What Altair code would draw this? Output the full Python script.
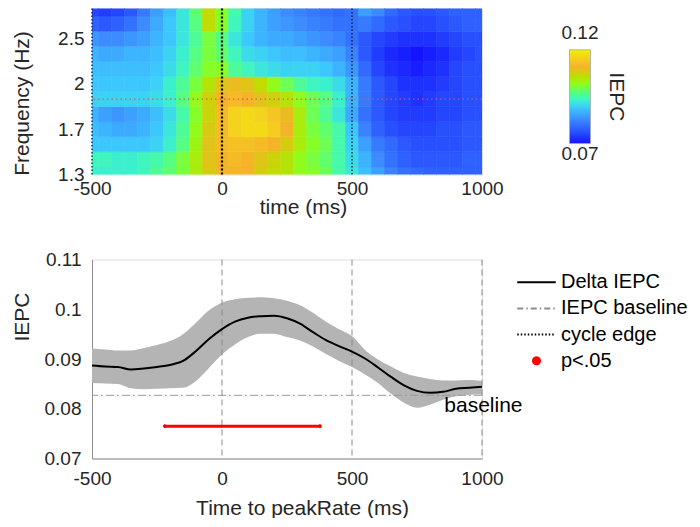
import altair as alt
import pandas as pd

FONT = "Liberation Sans"
TXT = "#262626"

# ---------------- top panel data (IEPC by frequency row and time) ----------------
times = [-500, -450, -400, -350, -300, -250, -200, -150, -100, -50, 0, 50, 100, 150, 200,
         250, 300, 350, 400, 450, 500, 550, 600, 650, 700, 750, 800, 850, 900, 950, 1000]
time_ticks = [-500, 0, 500, 1000]

freq_tick_rows = [0, 3, 6, 9]
freq_tick_labels = ["1.3", "1.7", "2", "2.5"]

# row 0 = lowest frequency (1.3 Hz) ... row 11 = highest
iepc_row_0 = [0.093, 0.093, 0.093, 0.093, 0.094, 0.096, 0.098, 0.100, 0.104, 0.108, 0.111, 0.111, 0.111, 0.108, 0.106, 0.105, 0.102, 0.101, 0.099, 0.095, 0.092, 0.088, 0.085, 0.082, 0.080, 0.079, 0.078, 0.078, 0.078, 0.078, 0.078]
iepc_row_1 = [0.094, 0.094, 0.093, 0.093, 0.094, 0.095, 0.097, 0.100, 0.104, 0.109, 0.111, 0.112, 0.111, 0.109, 0.107, 0.105, 0.102, 0.100, 0.098, 0.095, 0.091, 0.087, 0.083, 0.080, 0.078, 0.077, 0.077, 0.077, 0.077, 0.078, 0.078]
iepc_row_2 = [0.089, 0.089, 0.089, 0.089, 0.089, 0.090, 0.093, 0.097, 0.103, 0.109, 0.112, 0.113, 0.113, 0.112, 0.111, 0.108, 0.104, 0.101, 0.099, 0.095, 0.090, 0.085, 0.081, 0.079, 0.077, 0.076, 0.076, 0.076, 0.076, 0.077, 0.077]
iepc_row_3 = [0.088, 0.087, 0.086, 0.086, 0.087, 0.089, 0.092, 0.096, 0.102, 0.108, 0.112, 0.116, 0.117, 0.117, 0.115, 0.111, 0.104, 0.100, 0.098, 0.095, 0.089, 0.082, 0.078, 0.076, 0.075, 0.075, 0.075, 0.076, 0.076, 0.077, 0.077]
iepc_row_4 = [0.087, 0.085, 0.084, 0.085, 0.086, 0.088, 0.091, 0.095, 0.101, 0.107, 0.112, 0.116, 0.117, 0.116, 0.114, 0.110, 0.104, 0.099, 0.096, 0.092, 0.086, 0.080, 0.077, 0.075, 0.074, 0.074, 0.074, 0.075, 0.075, 0.076, 0.076]
iepc_row_5 = [0.090, 0.090, 0.090, 0.090, 0.090, 0.091, 0.093, 0.097, 0.102, 0.107, 0.111, 0.112, 0.111, 0.109, 0.107, 0.105, 0.102, 0.099, 0.097, 0.093, 0.087, 0.081, 0.077, 0.075, 0.074, 0.073, 0.074, 0.075, 0.075, 0.076, 0.076]
iepc_row_6 = [0.089, 0.089, 0.089, 0.089, 0.089, 0.090, 0.093, 0.096, 0.100, 0.105, 0.109, 0.110, 0.109, 0.106, 0.102, 0.099, 0.096, 0.094, 0.093, 0.091, 0.087, 0.081, 0.077, 0.075, 0.073, 0.073, 0.073, 0.074, 0.075, 0.076, 0.076]
iepc_row_7 = [0.088, 0.088, 0.088, 0.088, 0.088, 0.089, 0.091, 0.094, 0.098, 0.101, 0.101, 0.096, 0.094, 0.092, 0.091, 0.090, 0.090, 0.090, 0.089, 0.087, 0.084, 0.079, 0.075, 0.073, 0.072, 0.071, 0.072, 0.073, 0.075, 0.076, 0.076]
iepc_row_8 = [0.087, 0.086, 0.086, 0.087, 0.087, 0.088, 0.090, 0.093, 0.097, 0.100, 0.098, 0.094, 0.091, 0.090, 0.089, 0.088, 0.088, 0.087, 0.086, 0.085, 0.082, 0.077, 0.074, 0.072, 0.071, 0.070, 0.071, 0.072, 0.074, 0.075, 0.076]
iepc_row_9 = [0.084, 0.083, 0.083, 0.084, 0.085, 0.087, 0.089, 0.092, 0.096, 0.100, 0.097, 0.092, 0.089, 0.087, 0.086, 0.086, 0.085, 0.084, 0.083, 0.082, 0.080, 0.077, 0.075, 0.074, 0.073, 0.073, 0.073, 0.074, 0.075, 0.076, 0.076]
iepc_row_10 = [0.078, 0.077, 0.078, 0.080, 0.083, 0.086, 0.089, 0.092, 0.097, 0.106, 0.101, 0.094, 0.090, 0.087, 0.085, 0.084, 0.083, 0.082, 0.081, 0.080, 0.080, 0.081, 0.079, 0.077, 0.076, 0.075, 0.075, 0.076, 0.077, 0.078, 0.078]
iepc_row_11 = [0.075, 0.074, 0.075, 0.077, 0.081, 0.085, 0.088, 0.092, 0.098, 0.106, 0.101, 0.095, 0.090, 0.087, 0.085, 0.083, 0.082, 0.081, 0.080, 0.079, 0.080, 0.085, 0.083, 0.079, 0.077, 0.076, 0.076, 0.077, 0.078, 0.078, 0.078]
iepc_rows = [iepc_row_0, iepc_row_1, iepc_row_2, iepc_row_3, iepc_row_4, iepc_row_5,
             iepc_row_6, iepc_row_7, iepc_row_8, iepc_row_9, iepc_row_10, iepc_row_11]

heat_edges = [-500, 500]
heat_zero = [0]
heat_marked_row = [5]

cbar_min, cbar_max = 0.07, 0.12
stop_values = [0.0700, 0.0760, 0.0830, 0.0890, 0.0935, 0.0975, 0.1015, 0.1060, 0.1110, 0.1160, 0.1200]
stop_colors = ["#1414ff", "#2850ff", "#3c8cff", "#3cc8ff", "#3cf5c8", "#5aff78",
               "#8cff1e", "#c0dc00", "#f5b428", "#f5d21e", "#f0f000"]

# ---------------- bottom panel data ----------------
delta_mean = [0.0887, 0.0885, 0.0884, 0.0879, 0.0881, 0.0884, 0.0888, 0.0896, 0.0916, 0.0940, 0.0960,
              0.0975, 0.0983, 0.0986, 0.0987, 0.0982, 0.0971, 0.0954, 0.0938, 0.0926, 0.0915,
              0.0901, 0.0883, 0.0864, 0.0847, 0.0836, 0.0832, 0.0834, 0.0840, 0.0842, 0.0844]
delta_upper = [0.0921, 0.0919, 0.0917, 0.0917, 0.0922, 0.0928, 0.0936, 0.0950, 0.0973, 0.0998, 0.1013,
               0.1020, 0.1023, 0.1024, 0.1022, 0.1017, 0.1008, 0.0993, 0.0975, 0.0960, 0.0946,
               0.0918, 0.0899, 0.0885, 0.0872, 0.0865, 0.0860, 0.0857, 0.0857, 0.0858, 0.0856]
delta_lower = [0.0852, 0.0851, 0.0850, 0.0841, 0.0839, 0.0840, 0.0841, 0.0842, 0.0856, 0.0882, 0.0909,
               0.0929, 0.0944, 0.0951, 0.0951, 0.0944, 0.0937, 0.0925, 0.0910, 0.0896, 0.0884,
               0.0869, 0.0852, 0.0830, 0.0812, 0.0802, 0.0808, 0.0818, 0.0825, 0.0828, 0.0829]
iepc_ticks = [0.07, 0.08, 0.09, 0.1, 0.11]
baseline_value = 0.0827
cycle_edges = [0, 500, 1000]
sig_start, sig_end, sig_level = -220, 377, 0.0765
baseline_label_t, baseline_label_y, baseline_label = 855, 0.0806, "baseline"
legend_labels = ["Delta IEPC", "IEPC baseline", "cycle edge", "p<.05"]

# ---------------- tables ----------------
half = (times[1] - times[0]) / 2
heat_records = []
for r, row in enumerate(iepc_rows):
    for t, v in zip(times, row):
        heat_records.append({"t0": t - half, "t1": t + half, "r0": r - 0.5, "r1": r + 0.5, "v": v})
heat_df = pd.DataFrame(heat_records)

heat_scale = alt.Scale(domain=stop_values, range=stop_colors, interpolate="rgb", clamp=True)
PLAIN_NUM = "'' + datum.value"


def hx(field):
    return alt.X(f"{field}:Q", scale=alt.Scale(domain=[-500, 1000], nice=False, zero=False),
                 axis=alt.Axis(values=time_ticks, labelExpr=PLAIN_NUM, title="time (ms)", grid=False,
                               ticks=False, domain=False, labelFlush=False, labelFontSize=19,
                               labelFont=FONT, labelColor=TXT, labelPadding=4.5, titleFontSize=21,
                               titleFont=FONT, titleColor=TXT, titleFontWeight="normal", titleY=32.7,
                               titleX=211, titleAlign="center", titleBaseline="middle"))


label_expr = "''"
for r, lab in reversed(list(zip(freq_tick_rows, freq_tick_labels))):
    label_expr = f"datum.value === {r} ? '{lab}' : " + label_expr


def hy(field):
    return alt.Y(f"{field}:Q", scale=alt.Scale(domain=[0, len(iepc_rows) - 1], nice=False, zero=False),
                 axis=alt.Axis(values=freq_tick_rows, labelExpr=label_expr, title="Frequency (Hz)",
                               grid=False, ticks=False, domain=False, labelFontSize=19, labelFont=FONT,
                               labelColor=TXT, labelPadding=8, titleFontSize=21, titleFont=FONT,
                               titleColor=TXT, titleFontWeight="normal", titleAngle=270,
                               titleX=-70, titleY=94.5, titleAlign="center", titleBaseline="middle"))


heat_rect = alt.Chart(heat_df).mark_rect(clip=True, strokeWidth=0.6).encode(
    x=hx("t0"), x2="t1:Q", y=hy("r0"), y2="r1:Q",
    fill=alt.Fill("v:Q", scale=heat_scale, legend=None),
    stroke=alt.Stroke("v:Q", scale=heat_scale, legend=None),
)
heat_edge_rules = alt.Chart(pd.DataFrame({"t": heat_edges})).mark_rule(
    color="#15152a", strokeDash=[1.5, 2], strokeWidth=1.3).encode(x=hx("t"))
heat_zero_rule = alt.Chart(pd.DataFrame({"t": heat_zero})).mark_rule(
    color="black", strokeDash=[2, 2], strokeWidth=2.2).encode(x=hx("t"))
heat_row_rule = alt.Chart(pd.DataFrame({"r": heat_marked_row})).mark_rule(
    color="#e8505a", strokeDash=[1.5, 3], strokeWidth=1.2).encode(y=hy("r"))
heat_group = alt.layer(heat_rect, heat_edge_rules, heat_zero_rule, heat_row_rule)

# ---------------- colour bar (own y scale, drawn to the right of the heat map) ----------------
cbar_df = pd.DataFrame({"lo": [cbar_min], "hi": [cbar_max]})
gradient = {
    "gradient": "linear", "x1": 0, "x2": 0, "y1": 1, "y2": 0,
    "stops": [{"offset": (v - cbar_min) / (cbar_max - cbar_min), "color": c}
              for v, c in zip(stop_values, stop_colors)],
}


def cy(field):
    return alt.Y(f"{field}:Q", scale=alt.Scale(domain=[0.05346, 0.14204], nice=False, zero=False),
                 axis=alt.Axis(orient="right", title="IEPC", labels=False, ticks=False, domain=False,
                               grid=False, titleAngle=90, titleX=133.3, titleY=87.8, titleAlign="center",
                               titleBaseline="middle", titleFontSize=21, titleFont=FONT, titleColor=TXT,
                               titleFontWeight="normal"))


cbar_rect = alt.Chart(cbar_df).mark_rect(fill=gradient, stroke="#a8a8a8", strokeWidth=0.8).encode(
    x=alt.value(477.5), x2=alt.value(498.5), y=cy("lo"), y2="hi:Q")
cbar_top = alt.Chart(cbar_df).mark_text(dy=-16.5, fontSize=19, font=FONT, color=TXT, align="center",
                                        baseline="middle").encode(
    x=alt.value(488), y=cy("hi"), text=alt.Text("hi:Q", format=".2f"))
cbar_bot = alt.Chart(cbar_df).mark_text(dy=10.1, fontSize=19, font=FONT, color=TXT, align="center",
                                        baseline="middle").encode(
    x=alt.value(488), y=cy("lo"), text=alt.Text("lo:Q", format=".2f"))
cbar_group = alt.layer(cbar_rect, cbar_top, cbar_bot)

top_panel = alt.layer(heat_group, cbar_group).resolve_scale(y="independent").properties(width=390, height=166)

# ---------------- bottom panel ----------------
line_df = pd.DataFrame({"t": times, "mean": delta_mean, "lo": delta_lower, "hi": delta_upper})


def bx(field):
    return alt.X(f"{field}:Q", scale=alt.Scale(domain=[-500, 1000], nice=False, zero=False),
                 axis=alt.Axis(values=time_ticks, labelExpr=PLAIN_NUM, title="Time to peakRate (ms)",
                               grid=False, ticks=False, domain=True, domainColor="#8c8c8c",
                               labelFlush=False, labelFontSize=19, labelFont=FONT, labelColor=TXT,
                               labelPadding=11, titleFontSize=21, titleFont=FONT, titleColor=TXT,
                               titleFontWeight="normal", titleY=49.5, titleX=210, titleAlign="center",
                               titleBaseline="middle"))


def by(field):
    return alt.Y(f"{field}:Q", scale=alt.Scale(domain=[0.07, 0.11], nice=False, zero=False),
                 axis=alt.Axis(values=iepc_ticks, format="~g", title="IEPC", grid=False, ticks=False,
                               domain=True, domainColor="#8c8c8c", labelFontSize=19, labelFont=FONT,
                               labelColor=TXT, labelPadding=11, titleFontSize=21, titleFont=FONT,
                               titleColor=TXT, titleFontWeight="normal", titleAngle=270, titleX=-70,
                               titleY=57, titleAlign="center", titleBaseline="middle"))


LINE_PATH = "M-5.5,0L5.5,0"
DOT_PATH = "M1,0A1,1,0,1,1,-1,0A1,1,0,1,1,1,0Z"
legend = alt.Legend(title=None, orient="none", legendX=434.5, legendY=12.7, direction="vertical",
                    symbolSize=49, symbolStrokeWidth=2, labelFontSize=20, labelFont=FONT,
                    labelColor="black", labelOffset=14.5, rowPadding=6.2, padding=0, labelLimit=300)
series_color = alt.Color("series:N", legend=legend,
                         scale=alt.Scale(domain=legend_labels, range=["black", "#8c8c8c", "black", "red"]))
series_shape = alt.Shape("series:N", legend=legend,
                         scale=alt.Scale(domain=legend_labels, range=[LINE_PATH, LINE_PATH, LINE_PATH, DOT_PATH]))
series_dash = alt.StrokeDash("series:N", legend=legend,
                             scale=alt.Scale(domain=legend_labels,
                                             range=[[1, 0], [6, 3, 1.5, 3], [1.5, 2], [1, 0]]))

band = alt.Chart(line_df).mark_area(color="#b4b4b4", interpolate="monotone").encode(
    x=bx("t"), y=by("lo"), y2="hi:Q")
base_rule = alt.Chart(pd.DataFrame({"y": [baseline_value]})).mark_rule(
    color="#9a9a9a", strokeDash=[8, 3, 2, 3], strokeWidth=1).encode(y=by("y"))
edge_rules = alt.Chart(pd.DataFrame({"t": cycle_edges})).mark_rule(
    color="#8a8a8a", strokeDash=[6, 4], strokeWidth=1).encode(x=bx("t"))
mean_line = alt.Chart(line_df).mark_line(color="black", strokeWidth=2, interpolate="monotone").encode(
    x=bx("t"), y=by("mean"))
sig_df = pd.DataFrame({"t0": [sig_start], "t1": [sig_end], "y": [sig_level]})
sig_rule = alt.Chart(sig_df).mark_rule(color="red", strokeWidth=3).encode(x=bx("t0"), x2="t1:Q", y=by("y"))
sig_pts_df = pd.DataFrame({"t": [sig_start, sig_end], "y": [sig_level, sig_level], "series": ["p<.05", "p<.05"]})
sig_pts = alt.Chart(sig_pts_df).mark_point(filled=False, fill="red", size=9, opacity=1, strokeWidth=1).encode(
    x=bx("t"), y=by("y"), color=series_color, shape=series_shape, strokeDash=series_dash)
base_text = alt.Chart(pd.DataFrame({"t": [baseline_label_t], "y": [baseline_label_y], "label": [baseline_label]})).mark_text(
    align="left", baseline="middle", fontSize=21, font=FONT, color="black").encode(
    x=bx("t"), y=by("y"), text="label:N")

bottom = alt.layer(band, base_rule, edge_rules, mean_line, sig_rule, sig_pts, base_text).properties(
    width=390, height=199)

chart = alt.vconcat(top_panel, bottom, spacing=31).resolve_scale(
    color="independent", shape="independent", strokeDash="independent"
).properties(
    padding={"left": 2, "top": -1.5, "right": 0, "bottom": -0.5}
).configure_view(stroke="transparent", strokeWidth=0).configure(font=FONT)

chart.save("out.html", embed_options={"renderer": "svg", "actions": False})
